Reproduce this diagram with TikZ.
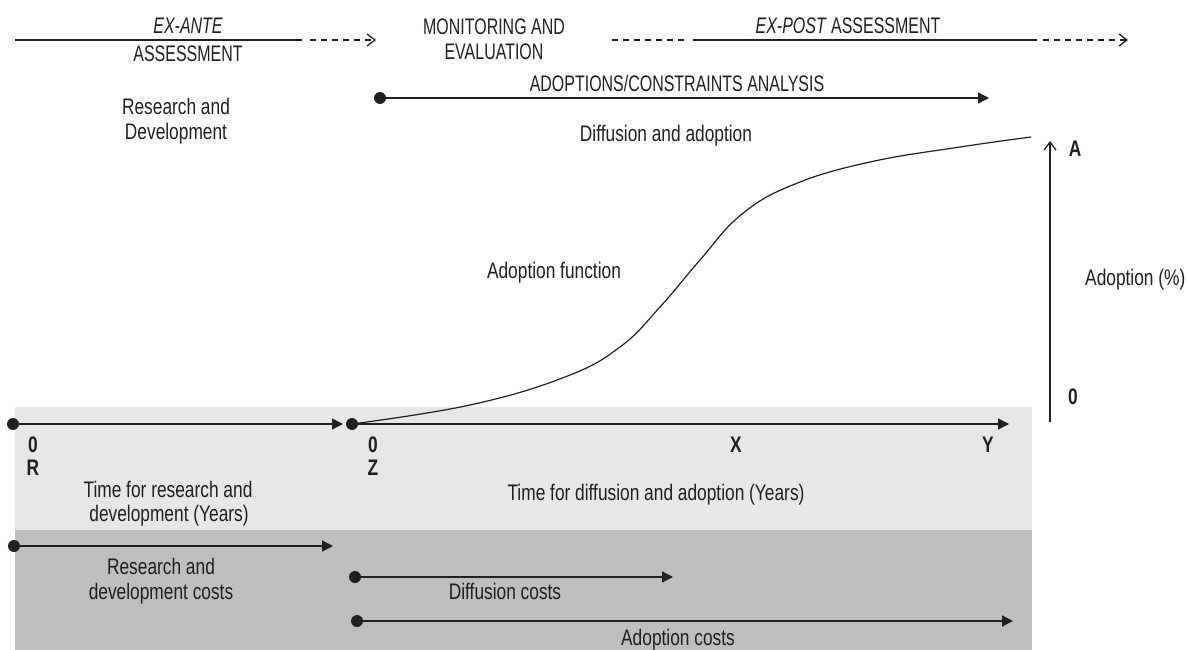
\documentclass[tikz,border=0pt]{standalone}
\usepackage{fontspec}
\setmainfont{Liberation Sans}[FakeStretch=0.77]
\newfontfamily\capsfont{Liberation Sans}[FakeStretch=0.71]
\usepackage{xcolor}
\usetikzlibrary{arrows.meta,positioning}

\definecolor{ink}{HTML}{231F20}
\definecolor{bandlight}{HTML}{E6E7E8}
\definecolor{banddark}{HTML}{BCBEC0}
\newcommand{\figfont}{\fontsize{22.5}{25}\selectfont}

\tikzset{
  txt/.style={anchor=base, inner sep=0pt, font=\figfont},
  captxt/.style={anchor=base, inner sep=0pt, font=\figfont\capsfont},
  axislbl/.style={anchor=base, inner sep=0pt, font=\figfont\bfseries},
  dashline/.style={dash pattern=on 6pt off 5pt},
  openhead/.style={-{Straight Barb[length=8pt,width=12pt]}}
}

\begin{document}
\begin{tikzpicture}[x=1pt, y=-1pt, >={Triangle[length=11pt,width=11pt]}, line width=1.3pt, ink]
  \useasboundingbox (0,0) rectangle (1187,650);

  % Background bands
  \fill[bandlight] (15,407) rectangle (1032,530);
  \fill[banddark] (15,530) rectangle (1032,650);

  % Ex-ante assessment
  \coordinate (ea0) at (15,40);
  \coordinate (ea1) at (302,40);
  \coordinate (ea2) at (310,40);
  \coordinate (ea3) at (376,40);
  \draw (ea0) -- (ea1);
  \draw[dashline, openhead] (ea2) -- (ea3);
  \node[captxt, font=\figfont\capsfont\itshape] (exante) at (188,34) {EX-ANTE};
  \node[captxt] (exanteb) at (188,62) {ASSESSMENT};

  % Monitoring and ex-post assessment
  \node[captxt] (monit) at (494,35) {MONITORING AND};
  \node[captxt] (evalu) at (494,60) {EVALUATION};
  \coordinate (ep0) at (612,40);
  \coordinate (ep1) at (688,40);
  \coordinate (ep2) at (693,40);
  \coordinate (ep3) at (1037,40);
  \coordinate (ep4) at (1043,40);
  \coordinate (ep5) at (1128,40);
  \draw[dashline] (ep0) -- (ep1);
  \draw (ep2) -- (ep3);
  \draw[dashline, openhead] (ep4) -- (ep5);
  \node[captxt] (expost) at (848,34) {\textit{EX-POST} ASSESSMENT};

  % Adoptions/constraints analysis
  \node[captxt] (analysis) at (677,92) {ADOPTIONS/CONSTRAINTS ANALYSIS};
  \coordinate (an0) at (380,98);
  \coordinate (an1) at (989,98);
  \fill (an0) circle (6pt);
  \draw[->] (an0) -- (an1);

  % Phase titles
  \node[txt] (rd1) at (176,115) {Research and};
  \node[txt] (rd2) at (176,140) {Development};
  \node[txt] (diffad) at (666,142) {Diffusion and adoption};
  \node[txt] (adfun) at (554,278) {Adoption function};

  % Adoption axis
  \coordinate (a0) at (1050,422);
  \coordinate (a1) at (1050,141);
  \draw[openhead] (a0) -- (a1);
  \node[axislbl] (lblA) at (1075,157) {A};
  \node[axislbl] (lblA0) at (1073,404) {0};
  \node[txt, anchor=base east] (adpct) at (1186,285) {Adoption (\%)};

  % Time axes
  \coordinate (r0) at (13,424);
  \coordinate (r1) at (343,424);
  \coordinate (z0) at (352,424);
  \coordinate (z1) at (1009,424);
  \fill (r0) circle (6pt);
  \fill (z0) circle (6pt);
  \draw[->] (r0) -- (r1);
  \draw[->] (z0) -- (z1);
  \foreach \x/\t [count=\i] in {33/0, 373/0, 736/X, 988/Y} {
    \node[axislbl] (tick\i) at (\x,452) {\t};
  }
  \node[axislbl] (lblR) at (33,475) {R};
  \node[axislbl] (lblZ) at (373,475) {Z};
  \node[txt] (trd1) at (168,497) {Time for research and};
  \node[txt] (trd2) at (169,521) {development (Years)};
  \node[txt] (tdiff) at (656,500) {Time for diffusion and adoption (Years)};

  % Adoption function
  \draw[line width=1.2pt] plot[smooth, tension=0.7] coordinates {(z0) (470,405) (565,377) (620,347) (660,307) (700,260) (742,214) (795,184) (870,162) (960,147) (1031,137)};

  % Costs
  \coordinate (c0) at (14,546);
  \coordinate (c1) at (333,546);
  \coordinate (d0) at (355,577);
  \coordinate (d1) at (673,577);
  \coordinate (p0) at (357,621);
  \coordinate (p1) at (1013,621);
  \foreach \s/\e in {c0/c1, d0/d1, p0/p1} {
    \fill (\s) circle (6pt);
    \draw[->] (\s) -- (\e);
  }
  \node[txt] (rdc1) at (161,574) {Research and};
  \node[txt] (rdc2) at (161,599) {development costs};
  \node[txt] (diffc) at (505,599) {Diffusion costs};
  \node[txt] (adc) at (678,645) {Adoption costs};
\end{tikzpicture}
\end{document}
